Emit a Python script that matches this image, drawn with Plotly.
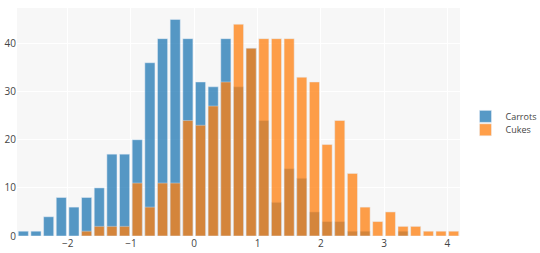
import plotly.graph_objects as go

# Bin centers (bin width 0.2)
carrots_x = [-2.7, -2.5, -2.3, -2.1, -1.9, -1.7, -1.5, -1.3, -1.1, -0.9, -0.7, -0.5, -0.3, -0.1,
             0.1, 0.3, 0.5, 0.7, 0.9, 1.1, 1.3, 1.5, 1.7, 1.9, 2.1, 2.3, 2.5, 2.7, 2.9, 3.1, 3.3]
carrots_y = [1, 1, 4, 8, 6, 8, 10, 17, 17, 20, 36, 41, 45, 41,
             32, 31, 41, 31, 39, 24, 7, 14, 12, 5, 3, 3, 1, 1, 0, 0, 1]

cukes_x = [-1.7, -1.5, -1.3, -1.1, -0.9, -0.7, -0.5, -0.3, -0.1, 0.1, 0.3, 0.5, 0.7, 0.9,
           1.1, 1.3, 1.5, 1.7, 1.9, 2.1, 2.3, 2.5, 2.7, 2.9, 3.1, 3.3, 3.5, 3.7, 3.9, 4.1]
cukes_y = [1, 2, 2, 2, 11, 6, 11, 11, 24, 23, 27, 32, 44, 39,
           41, 41, 41, 33, 32, 19, 24, 13, 6, 3, 5, 2, 2, 1, 1, 1]

x_tickvals = [-2, -1, 0, 1, 2, 3, 4]
x_ticktext = ["−2", "−1", "0", "1", "2", "3", "4"]
y_tickvals = [0, 10, 20, 30, 40]

fig = go.Figure()
fig.add_trace(go.Bar(x=carrots_x, y=carrots_y, name="Carrots", showlegend=True,
                     marker=dict(color="#1f77b4"), opacity=0.75, legend="legend"))
fig.add_trace(go.Bar(x=cukes_x, y=cukes_y, name="Cukes", showlegend=True,
                     marker=dict(color="#ff7f0e"), opacity=0.75, legend="legend2"))

leg_common = dict(xref="container", yref="container", x=0.862,
                  xanchor="left", yanchor="middle", font=dict(size=9),
                  bgcolor="rgba(0,0,0,0)")

fig.update_layout(
    width=540, height=253, showlegend=True,
    barmode="overlay", bargap=0.2,
    margin=dict(l=17, r=80, t=8, b=17),
    paper_bgcolor="white", plot_bgcolor="#f7f7f7",
    font=dict(family="Open Sans", size=10, color="#444"),
    legend=dict(y=0.54, **leg_common),
    legend2=dict(y=0.487, **leg_common),
    xaxis=dict(tickvals=x_tickvals, ticktext=x_ticktext, showgrid=True, gridcolor="white",
               zeroline=False, ticks="", automargin=False),
    yaxis=dict(tickvals=y_tickvals, showgrid=True, gridcolor="white", zeroline=False,
               ticks="", automargin=False),
)

fig.write_html("out.html")
